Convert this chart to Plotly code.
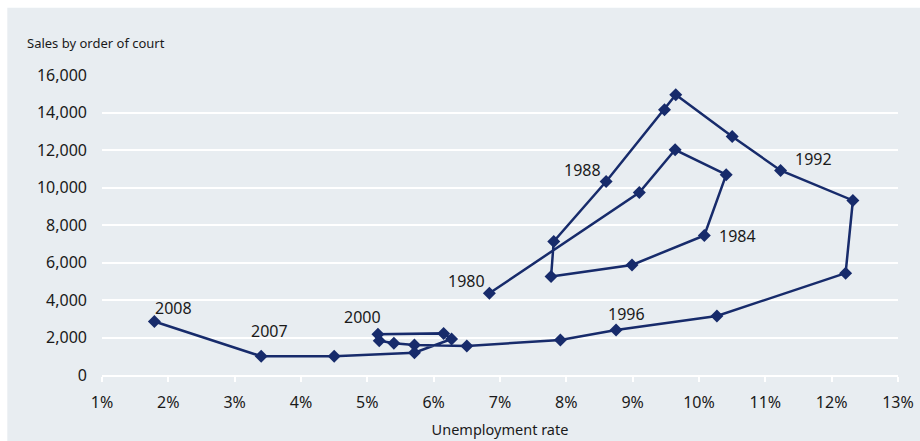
import plotly.graph_objects as go

years = list(range(1980, 2009))
unemployment = [6.84, 9.10, 9.64, 10.41, 10.08, 8.99, 7.77, 7.81, 8.60, 9.48,
                9.65, 10.50, 11.23, 12.32, 12.21, 10.27, 8.75, 7.91, 6.50, 5.71,
                5.40, 5.18, 5.16, 6.15, 6.27, 5.71, 4.50, 3.40, 1.79]
sales = [4360, 9730, 12010, 10680, 7440, 5870, 5250, 7120, 10320, 14150,
         14950, 12720, 10910, 9310, 5430, 3150, 2400, 1870, 1550, 1600,
         1690, 1830, 2170, 2220, 1920, 1190, 1000, 1000, 2850]
label_years = [1980, 1984, 1988, 1992, 1996, 2000, 2007, 2008]
x_ticks = list(range(1, 14))
y_ticks = list(range(0, 16001, 2000))

NAVY = "#172b6b"
BG = "#e8edf1"
FONT = "Noto Sans, DejaVu Sans, sans-serif"

W, H = 920, 441
PL, PR, PT, PB = 101.7, 897.7, 75.3, 375.0  # plot area in figure px
PW, PH = PR - PL, PB - PT


def px_to_paper_x(px):
    return (px - PL) / PW


def px_to_paper_y(py):
    return (PB - py) / PH


fig = go.Figure()
fig.add_trace(go.Scatter(
    x=unemployment, y=sales, mode="lines+markers",
    line=dict(color=NAVY, width=2.5),
    marker=dict(symbol="diamond", size=10, color=NAVY),
    hoverinfo="skip", showlegend=False,
))

# label offsets in pixels (dx, dy) relative to the labelled point
label_offsets = {1980: (-23, -12), 1984: (33, 0), 1988: (-24, -12), 1992: (33, -11),
                 1996: (10, -16), 2000: (-31, -26), 2007: (8, -25), 2008: (19, -14)}
for yr in label_years:
    i = years.index(yr)
    dx, dy = label_offsets[yr]
    fig.add_annotation(x=unemployment[i], y=sales[i], text=str(yr), showarrow=False,
                       xshift=dx, yshift=-dy, font=dict(size=16, color="#1a1a1a", family=FONT))

# background panel (white strip on top and left, as in the original)
fig.add_shape(type="rect", xref="paper", yref="paper",
              x0=px_to_paper_x(7), x1=px_to_paper_x(925),
              y0=px_to_paper_y(445), y1=px_to_paper_y(8),
              fillcolor=BG, line=dict(width=0), layer="below")

fig.add_annotation(xref="paper", yref="paper", x=px_to_paper_x(25), y=px_to_paper_y(43.5),
                   xanchor="left", yanchor="middle", text="Sales by order of court",
                   showarrow=False, font=dict(size=13, color="#1a1a1a", family=FONT))

fig.update_layout(
    width=W, height=H, autosize=False,
    margin=dict(l=PL, r=W - PR, t=PT, b=H - PB, pad=0, autoexpand=False),
    paper_bgcolor="white", plot_bgcolor="rgba(0,0,0,0)",
    font=dict(family=FONT, color="#1a1a1a", size=16),
    xaxis=dict(range=[1, 13], tickvals=x_ticks, ticktext=[f"{v}%" for v in x_ticks],
               showgrid=False, zeroline=False, showline=True, linecolor="white", linewidth=2,
               ticks="outside", ticklen=5, tickwidth=2, tickcolor="white",
               ticklabelstandoff=7, tickfont=dict(size=16), automargin=False,
               ticklabeloverflow="allow",
               title=dict(text="Unemployment rate", font=dict(size=14.5), standoff=13)),
    yaxis=dict(range=[0, 16000], tickvals=y_ticks, tickformat=",",
               showgrid=True, gridcolor="white", gridwidth=2, zeroline=False,
               ticks="", ticklabelstandoff=14, tickfont=dict(size=16), automargin=False),
)

fig.write_html(
    "out.html",
    config={"displayModeBar": False, "responsive": False},
    post_script="document.body.style.margin='0';document.body.style.padding='0';"
                "document.documentElement.style.overflow='hidden';",
)
